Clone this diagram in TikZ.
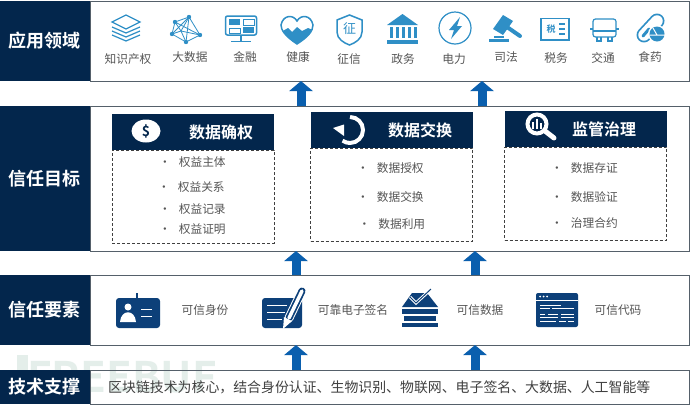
\documentclass[tikz,border=0pt]{standalone}
\usepackage{fontspec}
\setmainfont[BoldFont={Noto Sans CJK SC Bold}]{Noto Sans CJK SC}
\usepackage{xcolor}
\usetikzlibrary{positioning,arrows.meta}
\definecolor{navy}{HTML}{03264C}
\definecolor{deep}{HTML}{0D4079}
\definecolor{sky}{HTML}{2F8FC6}
\definecolor{flowblue}{HTML}{0A5FAE}
\definecolor{rim}{HTML}{55606A}
\definecolor{words}{HTML}{555555}
\definecolor{faint}{HTML}{E4EEEA}

\begin{document}
\begin{tikzpicture}
[
x=1pt, y=-1pt,
label-box/.style={fill=navy, text=white, font=\fontsize{18}{20}\selectfont\bfseries, minimum width=90pt, inner sep=0pt, outer sep=0pt},
panel/.style={draw=rim, line width=1pt, minimum width=599pt, inner sep=0pt, outer sep=0pt},
head-box/.style={fill=navy, minimum width=162pt, minimum height=36pt, inner sep=0pt, outer sep=0pt},
body-box/.style={draw=black!75, dashed, dash pattern=on 3pt off 2pt, line width=0.8pt, minimum width=162pt, minimum height=93pt, inner sep=0pt, outer sep=0pt},
head-text/.style={text=white, font=\fontsize{16}{18}\selectfont\bfseries},
list-item/.style={text=words, anchor=west, inner sep=0pt, font=\fontsize{11.7}{14}\selectfont},
icon-text/.style={text=words, inner sep=0pt, font=\fontsize{11.7}{14}\selectfont},
flow/.style={draw=flowblue, line width=9pt, -{Triangle[length=10pt,width=23pt]}},
line-sky/.style={draw=sky, line width=1.2pt},
line-deep/.style={draw=white, line width=1pt}
]
\useasboundingbox (0,0) rectangle (690,405);
\fill [white] (0,0) rectangle (690,405);

% faint mark behind the lowest row
\fill [faint] (17,355) rectangle (28,372);
\node (mark) [text=faint, font=\fontsize{42}{44}\selectfont\bfseries, inner sep=0pt] at (122,377) {FREEBUF};

% rows
\node (label-a) [label-box, minimum height=80pt] at (45,41)    {应用领域};
\node (panel-a) [panel, minimum height=80pt, right = 0pt of label-a] {};
\node (label-b) [label-box, minimum height=145pt] at (45,178.5) {信任目标};
\node (panel-b) [panel, minimum height=145pt, right = 0pt of label-b] {};
\node (label-c) [label-box, minimum height=70pt] at (45,310)   {信任要素};
\node (panel-c) [panel, minimum height=70pt, right = 0pt of label-c] {};
\node (label-d) [label-box, minimum height=34pt] at (45,387)   {技术支撑};
\node (panel-d) [panel, minimum height=34pt, right = 0pt of label-d] {};
\node (tech)    [text=black!75, anchor=west, inner sep=0pt, font=\fontsize{13.9}{16}\selectfont] at (108,387)
  {区块链技术为核心，结合身份认证、生物识别、物联网、电子签名、大数据、人工智能等};

% arrows between rows
\coordinate (flow-l) at (296,0);
\coordinate (flow-r) at (475,0);
\coordinate (flow-tl) at (301,0);
\coordinate (flow-tr) at (482,0);
\draw [flow] (panel-b.north -| flow-tl) -- (panel-a.south -| flow-tl);
\draw [flow] (panel-b.north -| flow-tr) -- (panel-a.south -| flow-tr);
\draw [flow] (panel-c.north -| flow-l)  -- (panel-b.south -| flow-l);
\draw [flow] (panel-c.north -| flow-r)  -- (panel-b.south -| flow-r);
\draw [flow] (panel-d.north -| flow-l)  -- (panel-c.south -| flow-l);
\draw [flow] (panel-d.north -| flow-r)  -- (panel-c.south -| flow-r);

% top row labels
\node (app-1)  [icon-text] at (128,59) {知识产权};
\node (app-2)  [icon-text] at (190,57) {大数据};
\node (app-3)  [icon-text] at (245,57) {金融};
\node (app-4)  [icon-text] at (298,57) {健康};
\node (app-5)  [icon-text] at (349,59) {征信};
\node (app-6)  [icon-text] at (403,59) {政务};
\node (app-7)  [icon-text] at (454,59) {电力};
\node (app-8)  [icon-text] at (506,57) {司法};
\node (app-9)  [icon-text] at (556,58) {税务};
\node (app-10) [icon-text] at (603,58) {交通};
\node (app-11) [icon-text] at (650,57) {食药};

% layers
\draw [line-sky] (126,15) -- (140,22) -- (126,29) -- (112,22) -- cycle;
\foreach \h in {27,31,35}
  \draw [line-sky] (112,\h) -- (126,\h+6) -- (140,\h);
% network
\foreach \a/\b in {189/17, 175/22, 200/35, 186/42, 172/34}
  {\draw [line-sky, line width=0.8pt] (\a,\b) -- (181,31);
   \fill [sky] (\a,\b) circle (2.2pt);}
\draw [line-sky, line width=0.8pt] (189,17) -- (175,22) -- (172,34) -- (186,42) -- (200,35) -- cycle;
\draw [line-sky, line width=0.8pt] (189,17) -- (186,42) (175,22) -- (200,35) (172,34) -- (189,17);
% monitor
\draw [line-sky, line width=1.5pt, rounded corners=2pt] (225.5,16) rectangle (256.5,35);
\fill [sky] (229,19) rectangle (240,25);
\draw [line-sky, line width=0.7pt] (243,19) rectangle (254,25) (229,28) rectangle (240,33);
\fill [sky] (243,27) rectangle (254,33);
\draw [line-sky] (241,35) -- (241,41) (231,41.5) -- (251,41.5);
% heart
\begin{scope}
\clip (297,44) .. controls (285,36) and (281,30) .. (281,25) .. controls (283,15) and (293,14) .. (297,21) .. controls (301,14) and (311,15) .. (313,25) .. controls (313,31) and (308,37) .. (297,44) -- cycle;
\fill [sky] (281,32) -- (288,28) -- (292,32) -- (297,27) -- (302,31) -- (308,28) -- (313,30) -- (313,44) -- (281,44) -- cycle;
\end{scope}
\draw [sky, line width=1.5pt] (297,44) .. controls (285,36) and (281,30) .. (281,25) .. controls (283,15) and (293,14) .. (297,21) .. controls (301,14) and (311,15) .. (313,25) .. controls (313,31) and (308,37) .. (297,44) -- cycle;
% shield
\draw [sky, line width=1.5pt] (349.5,15) -- (362,20) -- (362,32) .. controls (362,39) and (355,43) .. (349.5,45) .. controls (344,43) and (337,39) .. (337,32) -- (337,20) -- cycle;
\node (shield-text) [text=sky, inner sep=0pt, font=\fontsize{13}{14}\selectfont] at (349.5,29) {征};
% bank
\fill [sky] (402.5,14) -- (418,25) -- (387,25) -- cycle;
\foreach \a in {390,396,402,408,414}
  \fill [sky] (\a,27) rectangle (\a+2.6,38);
\fill [sky] (387,40) rectangle (418,43.5);
% bolt
\draw [line-sky] (455,28) circle (16pt);
\fill [sky] (460,17) -- (449,30) -- (454,30) -- (451,39) -- (462,26) -- (457,26) -- cycle;
% gavel
\fill [sky] (493,29) -- (503,15) -- (513,21) -- (503,35) -- cycle;
\draw [sky, line width=4pt, line cap=round] (507,27) -- (520,36);
\fill [sky] (494,35.5) rectangle (504,38);
\fill [sky] (489,39) rectangle (509,42);
% tax form
\draw [sky, line width=1.4pt] (541,18.5) rectangle (569,40);
\node (tax-text) [text=sky, inner sep=0pt, font=\fontsize{9}{10}\selectfont\bfseries] at (551,29) {税};
\draw [sky, line width=1.2pt] (559,24) -- (565,24) (559,29) -- (565,29) (559,34) -- (565,34);
% bus
\draw [line-sky, rounded corners=2.5pt] (593,19) rectangle (616,37);
\draw [line-sky] (593,29) -- (590,29) (616,29) -- (619,29) (593,31) -- (616,31);
\draw [line-sky] (597,37) -- (597,41) -- (601,41) -- (601,37) (608,37) -- (608,41) -- (612,41) -- (612,37);
% pill
\draw [sky, line width=15pt, line cap=round] (644,35) -- (657,21);
\draw [white, line width=11.5pt, line cap=round] (644,35) -- (657,21);
\draw [sky, line width=3pt, line cap=round] (643,36) -- (649,29);
\fill [white] (657,34) circle (9pt);
\fill [sky] (657,34) circle (7.5pt);
\draw [white, line width=1pt] (650,35) -- (665,35) (657,35) -- (653,28);

% cards
\node (head-1) [head-box] at (193,132)   {};
\node (body-1) [body-box, below = 0pt of head-1] {};
\node (head-2) [head-box] at (391.5,130) {};
\node (body-2) [body-box, below = 0pt of head-2] {};
\node (head-3) [head-box] at (585.5,129) {};
\node (body-3) [body-box, below = 0pt of head-3] {};
\node (title-1) [head-text] at (221,132) {数据确权};
\node (title-2) [head-text] at (420,130) {数据交换};
\node (title-3) [head-text] at (604,129) {监管治理};

% card icons
\fill [white] (146,131) ellipse (14.5 and 11.5);
\node (coin-sign) [text=navy, inner sep=0pt, font=\fontsize{14}{16}\selectfont\bfseries] at (146,131) {\$};
\draw [white, line width=4pt] (350,117) arc (-90:125:13);
\fill [white] (333,128) -- (344,124.5) -- (344,136) -- cycle;
\draw [white, line width=4pt] (537,124) circle (9.5pt);
\draw [white, line width=5pt, line cap=round] (545,131) -- (554,138);
\draw [white, line width=1.5pt] (533,129) -- (533,122) (537,129) -- (537,119) (541,129) -- (541,123);

% card lists
\node (item-11) [list-item] at (159,162) {•\hspace{8pt}权益主体};
\node (item-12) [list-item] at (158,187) {•\hspace{8pt}权益关系};
\node (item-13) [list-item] at (159,209) {•\hspace{8pt}权益记录};
\node (item-14) [list-item] at (159,229) {•\hspace{8pt}权益证明};
\node (item-21) [list-item] at (357,168) {•\hspace{8pt}数据授权};
\node (item-22) [list-item] at (357,197) {•\hspace{8pt}数据交换};
\node (item-23) [list-item] at (358.5,224) {•\hspace{8pt}数据利用};
\node (item-31) [list-item] at (551,168) {•\hspace{8pt}数据存证};
\node (item-32) [list-item] at (551,197) {•\hspace{8pt}数据验证};
\node (item-33) [list-item] at (551,223) {•\hspace{8pt}治理合约};

% third row
\node (need-1) [icon-text] at (205,310) {可信身份};
\node (need-2) [icon-text] at (353,310) {可靠电子签名};
\node (need-3) [icon-text] at (480,310) {可信数据};
\node (need-4) [icon-text] at (618,310) {可信代码};

% id card
\fill [deep, rounded corners=3pt] (116,298) rectangle (160,328);
\draw [deep, line width=1.5pt] (137,293) -- (137,298);
\fill [white] (128,307) circle (3.5pt);
\fill [white] (120,322) .. controls (121,309) and (135,309) .. (136,322) -- cycle;
\draw [line-deep] (141,309) -- (152,309) (141,316) -- (152,316);
% signature
\fill [deep, rounded corners=3pt] (262,298) rectangle (302,328);
\draw [line-deep] (267,305) -- (287,305) (267,312) -- (285,312) (267,319) -- (282,319);
\draw [white, line width=9pt, line cap=round] (289,318) -- (302,291);
\draw [deep, line width=7pt, line cap=round] (289,318) -- (302,291);
\draw [white, line width=3.5pt, line cap=round] (289,318) -- (302,291);
\fill [white] (283,329) -- (284,317) -- (292,321) -- cycle;
% data stack
\fill [deep] (402,307) -- (412,293) -- (427,293) -- (438,307) -- cycle;
\fill [deep] (402,309) rectangle (438,313.5);
\fill [deep] (404,316) rectangle (436,320.5);
\fill [deep] (402,323) rectangle (438,327);
\draw [white, line width=3pt] (410,297) -- (416,303) -- (429,291);
\draw [deep, line width=1pt] (410,297) -- (416,303) -- (431,289);
% code window
\fill [deep, rounded corners=2pt] (536,293) rectangle (578,327);
\foreach \a in {540,543.5,547}
  \fill [white] (\a,296.5) circle (1pt);
\draw [white, line width=0.5pt] (536,300.5) -- (578,300.5);
\draw [white, line width=1pt] (540,305) -- (561,305) (540,308) -- (550,308) (552,308) -- (574,308) (540,314) -- (545,314) (548,314) -- (558,314) (561,314) -- (574,314) (540,317.5) -- (558,317.5) (561,317.5) -- (574,317.5) (540,321) -- (556,321) (559,321) -- (566,321) (568,321) -- (574,321);
\end{tikzpicture}
\end{document}
